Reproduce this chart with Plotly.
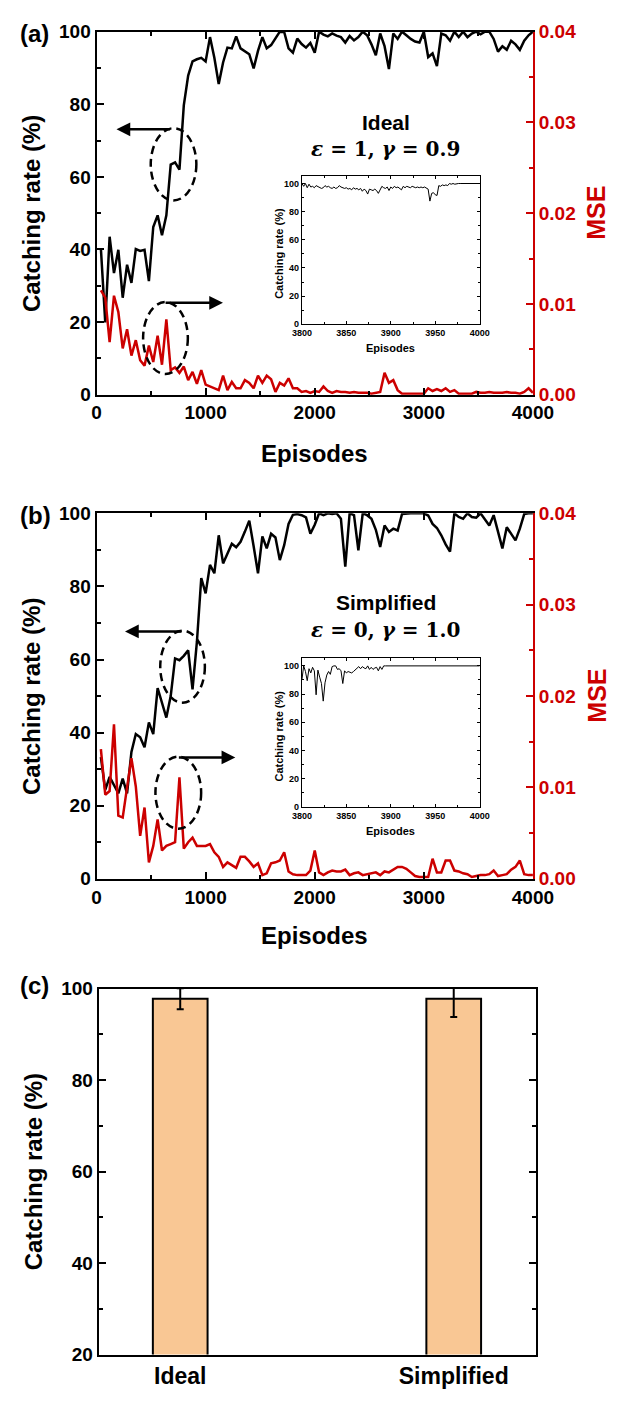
import plotly.graph_objects as go

# ---------------- data ----------------
EPISODES = list(range(40, 4001, 40))

RATE_IDEAL = [
    40.3, 19.9, 43.5, 33.5, 39.9, 26.7, 35.8, 30.8, 40.1, 39.6,
    39.9, 31.3, 46.2, 49.4, 43.9, 49.4, 63.4, 64.0, 62.0, 79.7,
    87.9, 91.8, 92.4, 92.8, 91.8, 98.5, 92.8, 85.6, 91.5, 95.6,
    95.4, 98.7, 95.4, 94.7, 93.8, 89.9, 94.7, 98.5, 95.4, 96.3,
    98.3, 100.0, 99.9, 95.4, 94.2, 98.1, 96.6, 95.6, 96.9, 94.2,
    100.0, 99.2, 98.7, 99.5, 98.9, 98.5, 97.0, 98.8, 97.6, 98.5,
    100.0, 99.0, 96.5, 93.5, 99.5, 96.0, 89.7, 99.5, 98.0, 100.0,
    99.0, 98.0, 97.3, 97.0, 100.0, 93.0, 94.0, 90.5, 99.5, 99.0,
    97.5, 100.0, 98.5, 100.0, 98.5, 99.5, 100.0, 99.3, 100.0, 100.0,
    98.0, 94.5, 96.0, 95.0, 97.5, 96.5, 95.0, 97.5, 99.0, 100.0,
]
MSE_IDEAL = [
    0.0115, 0.0107, 0.0058, 0.0109, 0.0091, 0.0051, 0.0072, 0.0043, 0.0060, 0.0038,
    0.0032, 0.0054, 0.0036, 0.0065, 0.0033, 0.0083, 0.0027, 0.0030, 0.0024, 0.0031,
    0.0016, 0.0025, 0.0012, 0.0027, 0.0011, 0.0009, 0.0007, 0.0005, 0.0021, 0.0005,
    0.0014, 0.0007, 0.0007, 0.0016, 0.0013, 0.0007, 0.0021, 0.0013, 0.0021, 0.0017,
    0.0003, 0.0013, 0.0010, 0.0018, 0.0007, 0.0007, 0.0003, 0.0004, 0.0002, 0.0004,
    0.0003, 0.0009, 0.0004, 0.0002, 0.0004, 0.0003, 0.0003, 0.0002, 0.0003, 0.0002,
    0.0002, 0.0002, 0.0001, 0.0002, 0.0003, 0.0024, 0.0013, 0.0016, 0.0005, 0.0001,
    0.0001, 0.0001, 0.0001, 0.0001, 0.0001, 0.0007, 0.0004, 0.0006, 0.0004, 0.0007,
    0.0003, 0.0005, 0.0001, 0.0001, 0.0001, 0.0001, 0.0003, 0.0002, 0.0002, 0.0003,
    0.0002, 0.0002, 0.0002, 0.0003, 0.0002, 0.0002, 0.0001, 0.0003, 0.0007, 0.0002,
]
RATE_SIMPL = [
    33.3, 24.3, 27.9, 25.5, 23.4, 27.4, 23.4, 34.7, 39.6, 38.7,
    36.0, 42.8, 39.6, 52.2, 48.0, 44.1, 50.0, 60.3, 59.8, 61.0,
    62.5, 51.8, 64.8, 82.3, 78.1, 85.9, 83.6, 94.0, 86.3, 89.0,
    91.7, 90.7, 92.2, 95.0, 98.0, 91.0, 83.6, 93.7, 90.4, 94.4,
    93.4, 87.2, 91.3, 97.1, 99.6, 99.8, 99.5, 98.9, 94.4, 96.9,
    100.0, 99.5, 100.0, 99.8, 100.0, 98.5, 85.4, 100.0, 99.5, 89.9,
    100.0, 99.5, 98.5, 95.5, 90.8, 96.7, 94.9, 95.8, 95.3, 99.8,
    100.0, 100.0, 100.0, 100.0, 100.0, 99.4, 97.1, 96.0, 94.0, 91.5,
    89.5, 100.0, 99.0, 98.5, 100.0, 99.0, 98.8, 100.0, 98.5, 96.7,
    99.5, 95.0, 90.4, 96.2, 94.5, 92.6, 95.8, 99.8, 100.0, 100.0,
]
MSE_SIMPL = [
    0.0142, 0.0092, 0.0096, 0.0169, 0.0069, 0.0067, 0.0100, 0.0132, 0.0101, 0.0047,
    0.0078, 0.0018, 0.0036, 0.0065, 0.0031, 0.0036, 0.0038, 0.0040, 0.0111, 0.0033,
    0.0040, 0.0045, 0.0036, 0.0036, 0.0036, 0.0038, 0.0029, 0.0024, 0.0013, 0.0018,
    0.0015, 0.0012, 0.0024, 0.0024, 0.0019, 0.0013, 0.0017, 0.0004, 0.0006, 0.0017,
    0.0018, 0.0020, 0.0029, 0.0008, 0.0005, 0.0004, 0.0004, 0.0004, 0.0009, 0.0031,
    0.0007, 0.0004, 0.0007, 0.0009, 0.0008, 0.0008, 0.0010, 0.0004, 0.0006, 0.0007,
    0.0004, 0.0005, 0.0006, 0.0007, 0.0004, 0.0008, 0.0007, 0.0010, 0.0013, 0.0013,
    0.0011, 0.0007, 0.0003, 0.0002, 0.0002, 0.0002, 0.0022, 0.0007, 0.0007, 0.0020,
    0.0020, 0.0009, 0.0008, 0.0006, 0.0005, 0.0002, 0.0003, 0.0004, 0.0004, 0.0005,
    0.0009, 0.0003, 0.0004, 0.0005, 0.0010, 0.0013, 0.0020, 0.0005, 0.0004, 0.0004,
]

# last 200 episodes, sampled every 2 episodes
INSET_EPISODES = list(range(3800, 4001, 2))
INSET_IDEAL = [
    100, 98, 100, 97, 99.5, 97.5, 98, 97, 98.5, 98,
    97.5, 96.5, 97, 98.5, 97.5, 98, 97, 96.5, 97.5, 96.5,
    97, 98.5, 97.5, 97, 96.5, 97, 96, 96.5, 95.5, 97,
    96, 96.5, 95.5, 96.5, 94.5, 96, 95, 92.5, 96, 95.5,
    95, 96, 95, 93, 95.5, 98, 97, 96.5, 97.5, 95,
    97.5, 96.5, 98, 97, 97.5, 96.5, 95.5, 98, 97, 98,
    97.5, 97, 98, 97.5, 97, 97.5, 97, 97.5, 97, 97.5,
    96.5, 96, 87.5, 93, 93.5, 92, 91.5, 98.5, 98, 99,
    98.5, 99, 98.5, 100, 99.5, 100, 99.5, 100, 100, 100,
    100, 100, 100, 100, 100, 100, 100, 100, 100, 100,
    100,
]
INSET_SIMPL = [
    90, 100, 96, 89.5, 98, 95, 99, 96.5, 79.5, 97,
    92, 87.5, 75, 88, 93.5, 96, 94, 99.5, 100, 100,
    97.5, 98, 96.5, 87.5, 96.5, 95, 96, 95.5, 95, 96,
    97, 98, 99.5, 98, 99.5, 98.5, 98, 100, 97.5, 99,
    97.5, 98.5, 99, 96.5, 99.5, 97.5, 100, 100, 100, 100,
    100, 100, 100, 100, 100, 100, 100, 100, 100, 100,
    100, 100, 100, 100, 100, 100, 100, 100, 100, 100,
    100, 100, 100, 100, 100, 100, 100, 100, 100, 100,
    100, 100, 100, 100, 100, 100, 100, 100, 100, 100,
    100, 100, 100, 100, 100, 100, 100, 100, 100, 100,
    100,
]

POLICIES = ["Ideal", "Simplified"]
FINAL_RATE = [97.8, 97.8]
FINAL_STD = [2.3, 4.0]

# ---------------- styling ----------------
W, H = 630, 1401
FONT = "Liberation Sans, Arial, sans-serif"
RED = "#CC0000"
BLACK = "#000000"


def px(x):
    return x / W


def py(y):
    return 1 - y / H


tick_font = dict(family=FONT, size=19, color=BLACK, weight="bold")
inset_font = dict(family=FONT, size=9, color=BLACK, weight="bold")

fig = go.Figure()

# panel (a)
fig.add_trace(go.Scatter(x=EPISODES, y=RATE_IDEAL, mode="lines",
                         line=dict(color=BLACK, width=2.5), xaxis="x", yaxis="y"))
fig.add_trace(go.Scatter(x=EPISODES, y=MSE_IDEAL, mode="lines",
                         line=dict(color=RED, width=2.5), xaxis="x", yaxis="y2"))
fig.add_trace(go.Scatter(x=INSET_EPISODES, y=INSET_IDEAL, mode="lines",
                         line=dict(color=BLACK, width=1), xaxis="x2", yaxis="y3"))
# panel (b)
fig.add_trace(go.Scatter(x=EPISODES, y=RATE_SIMPL, mode="lines",
                         line=dict(color=BLACK, width=2.5), xaxis="x3", yaxis="y4"))
fig.add_trace(go.Scatter(x=EPISODES, y=MSE_SIMPL, mode="lines",
                         line=dict(color=RED, width=2.5), xaxis="x3", yaxis="y5"))
fig.add_trace(go.Scatter(x=INSET_EPISODES, y=INSET_SIMPL, mode="lines",
                         line=dict(color=BLACK, width=1), xaxis="x4", yaxis="y6"))
# panel (c)
fig.add_trace(go.Bar(x=[1, 2], y=FINAL_RATE, width=0.2,
                     marker=dict(color="#F9C794", line=dict(color=BLACK, width=2)),
                     error_y=dict(type="data", array=FINAL_STD, visible=True,
                                  color=BLACK, thickness=2, width=3.5),
                     xaxis="x5", yaxis="y7"))


def main_x(domain, anchor):
    return dict(domain=domain, anchor=anchor, range=[0, 4000], dtick=1000,
                showline=True, linecolor=BLACK, linewidth=2, mirror="ticks",
                ticks="inside", ticklen=7, tickwidth=2, tickcolor=BLACK,
                minor=dict(dtick=500, ticks="inside", ticklen=4, tickwidth=2, tickcolor=BLACK),
                showgrid=False, zeroline=False, tickfont=tick_font)


def main_y(domain, anchor):
    return dict(domain=domain, anchor=anchor, range=[0, 100], dtick=20,
                showline=True, linecolor=BLACK, linewidth=2, mirror=False,
                ticks="inside", ticklen=7, tickwidth=2, tickcolor=BLACK,
                minor=dict(dtick=10, ticks="inside", ticklen=4, tickwidth=2, tickcolor=BLACK),
                showgrid=False, zeroline=False, tickfont=tick_font)


def mse_y(overlay, anchor):
    return dict(overlaying=overlay, anchor=anchor, side="right", range=[0, 0.04],
                dtick=0.01, tickformat=".2f",
                showline=True, linecolor=RED, linewidth=2,
                ticks="inside", ticklen=7, tickwidth=2, tickcolor=RED,
                minor=dict(dtick=0.005, ticks="inside", ticklen=4, tickwidth=2, tickcolor=RED),
                showgrid=False, zeroline=False,
                tickfont=dict(family=FONT, size=19, color=RED, weight="bold"))


def inset_x(domain, anchor):
    return dict(domain=domain, anchor=anchor, range=[3800, 4000], dtick=50,
                showline=True, linecolor=BLACK, linewidth=1, mirror="ticks",
                ticks="inside", ticklen=3, tickwidth=1, tickcolor=BLACK,
                minor=dict(dtick=25, ticks="inside", ticklen=2, tickwidth=1, tickcolor=BLACK),
                showgrid=False, zeroline=False, tickfont=inset_font)


def inset_y(domain, anchor, top):
    return dict(domain=domain, anchor=anchor, range=[0, top], tickvals=[0, 20, 40, 60, 80, 100],
                showline=True, linecolor=BLACK, linewidth=1, mirror="ticks",
                ticks="inside", ticklen=3, tickwidth=1, tickcolor=BLACK,
                minor=dict(tickvals=[10, 30, 50, 70, 90], ticks="inside", ticklen=2,
                           tickwidth=1, tickcolor=BLACK),
                showgrid=False, zeroline=False, tickfont=inset_font)


A_X = [px(91), px(550)]
A_Y = [py(390.5), py(22)]
B_Y = [py(882), py(511)]
IN_X = [px(307), px(494)]
INA_Y = [py(319), py(169)]
INB_Y = [py(809), py(658)]
C_Y = [py(1365), py(993.5)]

fig.update_layout(
    width=W, height=H, margin=dict(l=0, r=0, t=0, b=0),
    paper_bgcolor="white", plot_bgcolor="white", showlegend=False,
    font=dict(family=FONT, color=BLACK),
    xaxis=main_x(A_X, "y"),
    yaxis=main_y(A_Y, "x"),
    yaxis2=mse_y("y", "x"),
    xaxis2=inset_x(IN_X, "y3"),
    yaxis3=inset_y(INA_Y, "x2", 105),
    xaxis3=main_x(A_X, "y4"),
    yaxis4=main_y(B_Y, "x3"),
    yaxis5=mse_y("y4", "x3"),
    xaxis4=inset_x(IN_X, "y6"),
    yaxis6=inset_y(INB_Y, "x4", 105.5),
    xaxis5=dict(domain=[px(93.3), px(552.7)], anchor="y7", range=[0.702, 2.299],
                tickvals=[1, 2], ticktext=POLICIES, ticks="",
                showline=True, linecolor=BLACK, linewidth=2, mirror=True,
                showgrid=False, zeroline=False,
                tickfont=dict(family=FONT, size=23, color=BLACK, weight="bold")),
    yaxis7=dict(domain=C_Y, anchor="x5", range=[20, 100], dtick=20,
                showline=True, linecolor=BLACK, linewidth=2, mirror="ticks",
                ticks="inside", ticklen=7, tickwidth=2, tickcolor=BLACK,
                minor=dict(dtick=10, ticks="inside", ticklen=4, tickwidth=2, tickcolor=BLACK),
                showgrid=False, zeroline=False, tickfont=tick_font),
)

# ---------------- text ----------------
ann = []


def text(x, y, s, size, color=BLACK, angle=0, family=FONT, xanchor="center", bold=True):
    ann.append(dict(x=x, y=y, xref="paper", yref="paper", text=s, showarrow=False,
                    textangle=angle, xanchor=xanchor, yanchor="middle",
                    font=dict(family=family, size=size, color=color,
                              weight="bold" if bold else "normal")))


SERIF = "DejaVu Serif, serif"
for label, yc in (("(a)", 24), ("(b)", 513), ("(c)", 990)):
    text(px(8), py(yc), label, 24, xanchor="left")

text(px(22), (A_Y[0] + A_Y[1]) / 2, "Catching rate (%)", 24, angle=-90)
text(px(22), (B_Y[0] + B_Y[1]) / 2, "Catching rate (%)", 24, angle=-90)
text(px(25), (C_Y[0] + C_Y[1]) / 2, "Catching rate (%)", 24, angle=-90)
text(px(320), py(450), "Episodes", 24)
text(px(320), py(940), "Episodes", 24)
text(px(617), (A_Y[0] + A_Y[1]) / 2, "MSE", 25, color=RED, angle=-90)
text(px(617), (B_Y[0] + B_Y[1]) / 2, "MSE", 25, color=RED, angle=-90)

text(px(395), py(114), "Ideal", 21)
text(px(395), py(141), "<i>ε</i> = 1, <i>γ</i> = 0.9", 20, family=SERIF)
text(px(395), py(602), "Simplified", 21)
text(px(395), py(629), "<i>ε</i> = 0, <i>γ</i> = 1.0", 20, family=SERIF)

text(px(283), (INA_Y[0] + py(176)) / 2, "Catching rate (%)", 11, angle=-90)
text(px(283), (INB_Y[0] + py(666)) / 2, "Catching rate (%)", 11, angle=-90)
text(px(400), py(343), "Episodes", 11)
text(px(400), py(833), "Episodes", 11)


# arrows pointing from the dashed ellipses toward the relevant axis
def arrow(xr, yr, tail, head, y):
    ann.append(dict(xref=xr, yref=yr, axref=xr, ayref=yr, x=head, y=y, ax=tail, ay=y,
                    text="", showarrow=True, arrowhead=2, arrowsize=1.1,
                    arrowwidth=2.5, arrowcolor=BLACK))


arrow("x", "y", 688, 183, 73.1)
arrow("x", "y", 619, 1159, 25.3)
arrow("x3", "y4", 793, 261, 67.7)
arrow("x3", "y4", 741, 1272, 33.2)

fig.update_layout(annotations=ann)

shapes = []
for xr, yr, x0, x1, y0, y1 in (
    ("x", "y", 497, 915, 53.5, 73.4),
    ("x", "y", 427, 837, 5.7, 25.5),
    ("x3", "y4", 584, 993, 48.2, 67.9),
    ("x3", "y4", 540, 959, 13.7, 33.4),
):
    shapes.append(dict(type="circle", xref=xr, yref=yr, x0=x0, x1=x1, y0=y0, y1=y1,
                       line=dict(color=BLACK, width=2.5, dash="8px,5px"), layer="above"))
fig.update_layout(shapes=shapes)

fig.write_html("out.html")
